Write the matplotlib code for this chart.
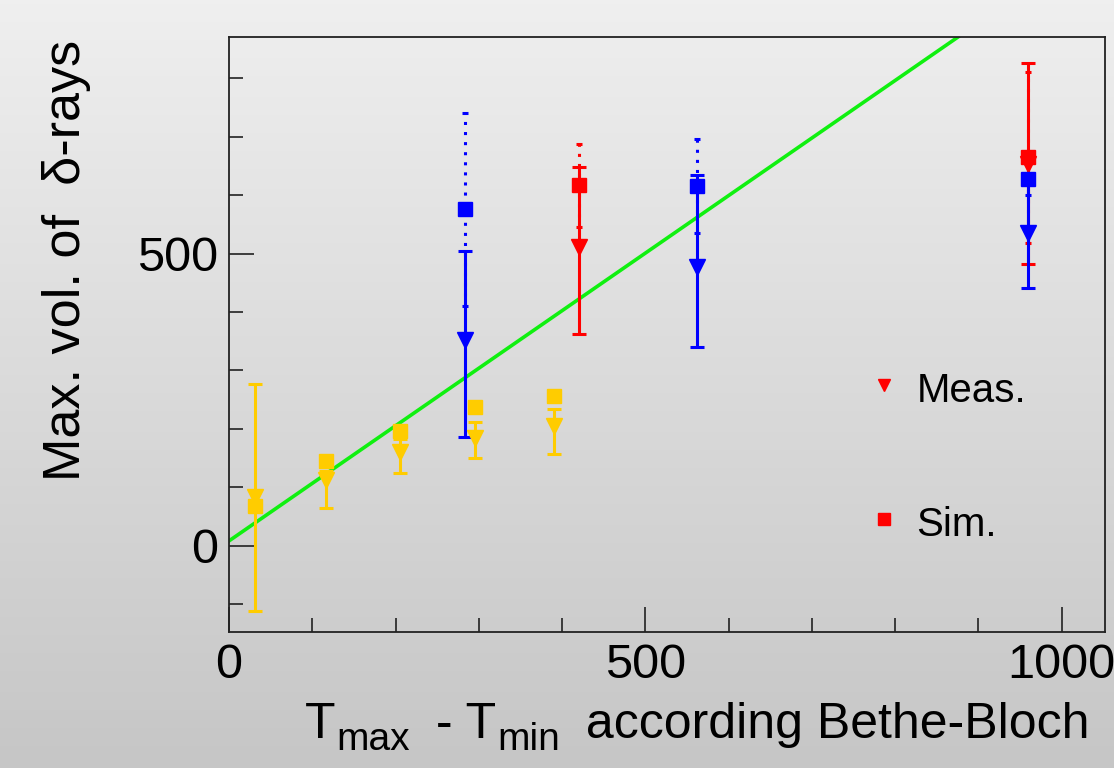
import numpy as np
import matplotlib
matplotlib.use("Agg")
import matplotlib.pyplot as plt
from matplotlib.colors import LinearSegmentedColormap

plt.rcParams['font.family'] = ['Liberation Sans', 'DejaVu Sans']

# measured (triangles, solid error bars) and simulated (squares, dotted error bars)
yel_x = [31, 117, 205, 295, 390]
yel_meas = [84, 112, 161, 184, 204]
yel_meas_lo = [196, 48, 36, 34, 47]
yel_meas_hi = [192, 15, 21, 28, 30]
yel_sim = [67, 144, 196, 238, 256]

blue_x = [284, 562, 960]
blue_meas = [352, 477, 536]
blue_meas_lo = [166, 137, 95]
blue_meas_hi = [152, 157, 95]
blue_sim = [576, 616, 627]
blue_sim_err = [165, 81, 26]

red_x = [420, 960]
red_meas = [511, 654]
red_meas_lo = [148, 172]
red_meas_hi = [138, 172]
red_sim = [617, 665]
red_sim_err = [71, 146]

# green line (fit) end points
fit_x = [0, 1050]
fit_y = [8, 1043]

W, H = 1114, 768
fig = plt.figure(figsize=(W / 100, H / 100), dpi=100)

# gradient background over the whole canvas
bg = fig.add_axes([0, 0, 1, 1], zorder=-10)
cmap = LinearSegmentedColormap.from_list('bg', ['#efefef', '#c6c6c6'])
bg.imshow(np.linspace(0, 1, 256).reshape(-1, 1), aspect='auto', cmap=cmap,
          extent=[0, 1, 0, 1])
bg.set_axis_off()

ax = fig.add_axes([229 / W, 1 - 632 / H, (1105 - 229) / W, (632 - 37) / H])
ax.set_facecolor('none')
ax.set_xlim(0, 1052)
ax.set_ylim(-148, 871)

ms_sq = 10
ms_tr = 12
lw = 2.2
dot = (0, (1, 2.3))


def draw(x, meas, lo, hi, sim, sim_err, color):
    e = ax.errorbar(x, sim, yerr=sim_err, fmt='s', color=color, ms=ms_sq,
                    elinewidth=lw, capsize=2, capthick=lw, zorder=3)
    if sim_err is not None:
        e[2][0].set_linestyle(dot)
    ax.errorbar(x, meas, yerr=[lo, hi], fmt='v', color=color, ms=ms_tr,
                elinewidth=lw, capsize=5, capthick=lw, zorder=3)


ax.plot(fit_x, fit_y, color='#10f010', lw=2.6, zorder=2)
draw(yel_x, yel_meas, yel_meas_lo, yel_meas_hi, yel_sim, None, '#ffcc00')
draw(red_x, red_meas, red_meas_lo, red_meas_hi, red_sim, red_sim_err, '#ff0000')
draw(blue_x, blue_meas, blue_meas_lo, blue_meas_hi, blue_sim, blue_sim_err, '#0000ff')

# ticks, ROOT style (inside)
ax.set_xticks([0, 500, 1000])
ax.set_xticks(np.arange(100, 1001, 100), minor=True)
ax.set_yticks([0, 500])
ax.set_yticks([-100, 100, 200, 300, 400, 600, 700, 800], minor=True)
ax.tick_params(which='both', direction='in', colors='#222222', width=1.2,
               labelsize=35, labelcolor='black')
ax.tick_params(axis='both', which='major', length=18, pad=8)
ax.tick_params(axis='both', which='minor', length=10)
for s in ax.spines.values():
    s.set_linewidth(1.3)
    s.set_color('#222222')

# legend
ax.plot([0.748], [0.415], 'v', color='#ff0000', ms=9, transform=ax.transAxes,
        clip_on=False)
ax.text(0.785, 0.405, 'Meas.', fontsize=29, transform=ax.transAxes, va='center')
ax.plot([0.748], [0.19], 's', color='#ff0000', ms=8, transform=ax.transAxes,
        clip_on=False)
ax.text(0.785, 0.18, 'Sim.', fontsize=29, transform=ax.transAxes, va='center')

fig.text(67 / W, 1 - 40 / H, 'Max. vol. of  δ-rays', rotation=90,
         fontsize=37.5, ha='center', va='top')

# x title with ROOT-like larger subscripts, laid out piece by piece
pieces = [('T', 36, 0, 1), ('max', 28, -12, 12), (' - T', 36, 0, 1),
          ('min', 28, -12, 12), (' according Bethe-Bloch', 36, 0, 0)]
r = fig.canvas.get_renderer()
xpos = 305
base = 738
for s, fs, dy, gap in pieces:
    t = fig.text(xpos / W, 1 - (base - dy) / H, s, fontsize=fs,
                 ha='left', va='baseline')
    xpos = t.get_window_extent(renderer=r).x1 + gap

fig.savefig('out.png', dpi=100)
